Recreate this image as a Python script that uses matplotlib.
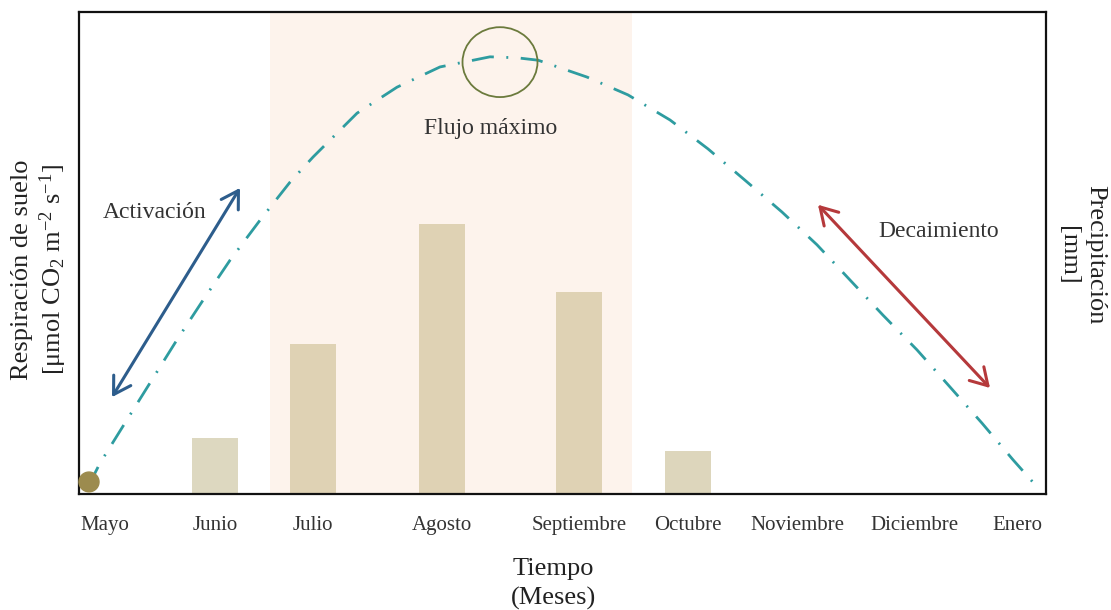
import matplotlib
matplotlib.use("Agg")
import matplotlib.pyplot as plt
from matplotlib.patches import Ellipse

plt.rcParams['font.family'] = ['Liberation Serif', 'DejaVu Serif']
plt.rcParams['mathtext.fontset'] = 'custom'
plt.rcParams['mathtext.rm'] = 'Liberation Serif'
plt.rcParams['mathtext.it'] = 'Liberation Serif:italic'

# ---- data ----
months = ["Mayo", "Junio", "Julio", "Agosto", "Septiembre", "Octubre",
          "Noviembre", "Diciembre", "Enero"]
month_pos = [0.26, 1.36, 2.34, 3.63, 5.00, 6.09, 7.18, 8.35, 9.38]

bar_months = ["Junio", "Julio", "Agosto", "Septiembre", "Octubre"]
precip = [11.6, 31.1, 56.0, 41.9, 8.9]

resp_t = [0.09, 0.21, 0.48, 0.73, 0.98, 1.24, 1.51, 1.81, 2.11, 2.34, 2.78,
          3.18, 3.61, 4.11, 4.38, 4.59, 5.08, 5.49, 5.91, 6.29, 6.66, 7.03,
          7.38, 7.71, 8.04, 8.38, 8.71, 9.03, 9.34, 9.61]
resp_v = [1.5, 6.4, 15.4, 23.7, 32.0, 40.2, 48.5, 56.8, 64.7, 69.9, 79.0,
          84.4, 88.6, 90.7, 90.5, 90.0, 86.5, 82.8, 77.6, 71.6, 65.1, 58.5,
          51.7, 44.4, 37.1, 29.9, 22.2, 14.7, 7.1, 0.8]

fig = plt.figure(figsize=(11.11, 6.10), dpi=100)
ax = fig.add_axes([79/1111, 116/610, 967/1111, 482/610])
ax.set_xlim(0, 9.67)
ax.set_ylim(0, 100)

# shaded rainy season
ax.axvspan(1.91, 5.53, color="#fdf3ec", zorder=0, lw=0)

# bars
bx = [month_pos[months.index(m)] for m in bar_months]
bar_cols = ["#ddd8c0", "#dfd2b4", "#dfd2b4", "#dfd2b4", "#ddd6bc"]
ax.bar(bx, precip, width=0.46, color=bar_cols, zorder=1, lw=0)

# respiration curve
ax.plot(resp_t, resp_v, color="#2e9ca0", lw=2.0,
        linestyle=(0, (8, 4.5, 0.7, 4.5)), zorder=3)

# start ball
ax.add_patch(Ellipse((0.10, 2.5), 0.2, 4.1, color="#9c8b4e", zorder=4, clip_on=False))
# peak circle
ax.add_patch(Ellipse((4.21, 89.6), 0.75, 14.5, fill=False, ec="#6b7a3c", lw=1.3, zorder=4))

# arrows
ax.annotate("", xy=(1.61, 63.5), xytext=(0.33, 20.1),
            arrowprops=dict(arrowstyle="<->,head_length=0.5,head_width=0.3",
                            color="#2d5d8c", lw=2.2,
                            mutation_scale=24, shrinkA=0, shrinkB=0))
ax.annotate("", xy=(9.11, 22.0), xytext=(7.39, 60.0),
            arrowprops=dict(arrowstyle="<->,head_length=0.5,head_width=0.3",
                            color="#b5393b", lw=2.2,
                            mutation_scale=24, shrinkA=0, shrinkB=0))

# annotations
ax.text(0.76, 58.3, "Activación", fontsize=17, ha="center", va="center", color="#333333")
ax.text(4.12, 75.9, "Flujo máximo", fontsize=17, ha="center", va="center", color="#333333")
ax.text(8.60, 54.4, "Decaimiento", fontsize=17, ha="center", va="center", color="#333333")

# axes styling
ax.set_xticks(month_pos)
ax.set_xticklabels(months, fontsize=15, color="#333333")
ax.tick_params(axis="x", length=0, pad=16)
ax.set_yticks([])
for s in ax.spines.values():
    s.set_linewidth(1.6)
    s.set_color("#111111")

fig.text(553/1111, 1 - 584/610, "Tiempo\n(Meses)", fontsize=19, ha="center",
         va="center", linespacing=1.4, color="#222222")
fig.text(40/1111, 1 - 270/610,
         "Respiración de suelo\n[μmol CO$_\\mathregular{2}$ m$^\\mathregular{-2}$ s$^\\mathregular{-1}$]",
         fontsize=19, ha="center", va="center", rotation=90, linespacing=1.15,
         color="#222222")
fig.text(1082/1111, 1 - 255/610, "Precipitación\n[mm]", fontsize=19,
         ha="center", va="center", rotation=-90, linespacing=1.3, color="#222222")

fig.savefig("out.png", dpi=100)
